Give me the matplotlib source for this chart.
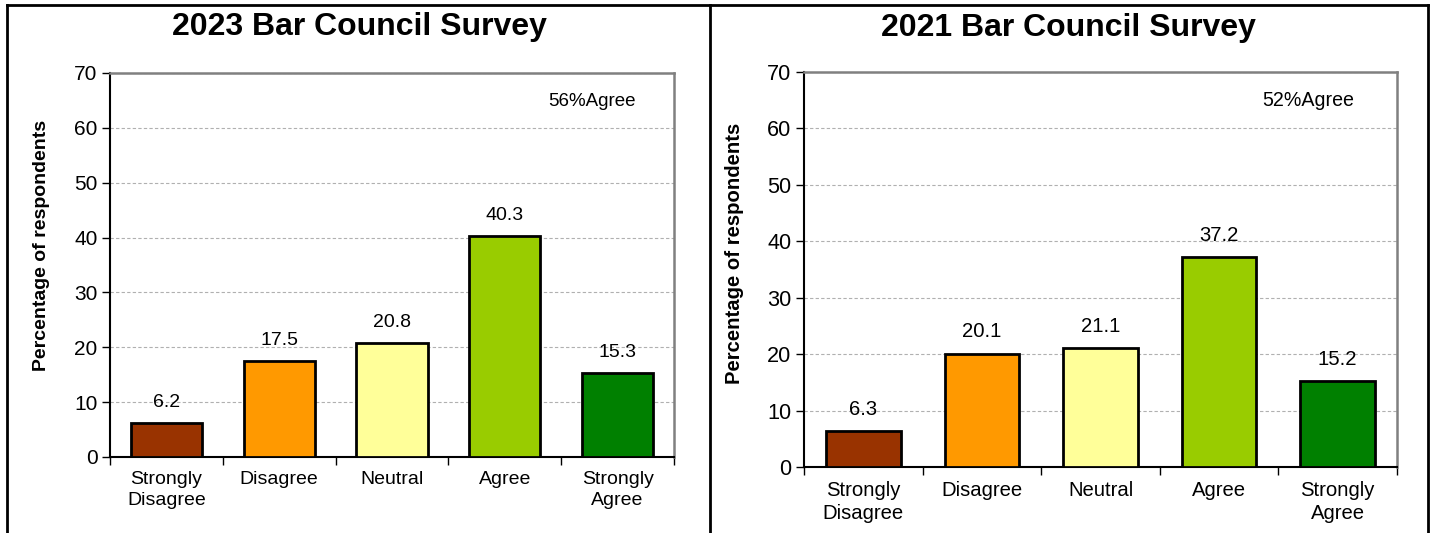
import matplotlib.pyplot as plt
import matplotlib as mpl
from matplotlib.lines import Line2D
import numpy as np

mpl.rcParams.update({
    'font.family': 'Liberation Sans',
    'xtick.direction': 'out',
    'ytick.direction': 'out',
})

categories = ['Strongly\nDisagree', 'Disagree', 'Neutral', 'Agree', 'Strongly\nAgree']
values_2023 = [6.2, 17.5, 20.8, 40.3, 15.3]
values_2021 = [6.3, 20.1, 21.1, 37.2, 15.2]
titles = ['2023 Bar Council Survey', '2021 Bar Council Survey']
agree_notes = ['56%Agree', '52%Agree']
colors = ['#993300', '#FF9900', '#FFFF99', '#99CC00', '#008000']

W, H = 1434, 533
fig = plt.figure(figsize=(W / 100, H / 100), dpi=100)

# panel placement in pixels: (left, right, top, bottom) of the plot area
panels = [
    dict(ax=(110, 674, 73, 457), title_xy=(359, 27), ylab_xy=(42, 245), note_xy=(592, 101), fs=14),
    dict(ax=(804, 1397, 72, 467), title_xy=(1068, 28), ylab_xy=(735, 253), note_xy=(1308, 101), fs=14.6),
]

for p, vals, title, note in zip(panels, [values_2023, values_2021], titles, agree_notes):
    l, r, t, b = p['ax']
    ax = fig.add_axes([l / W, 1 - b / H, (r - l) / W, (b - t) / H])
    x = np.arange(len(categories))
    bars = ax.bar(x, vals, width=0.63, color=colors, edgecolor='black', linewidth=2, zorder=3)
    for bar, v in zip(bars, vals):
        ax.text(bar.get_x() + bar.get_width() / 2, v + 2.2, f'{v:.1f}',
                ha='center', va='bottom', fontsize=p['fs'])
    ax.set_xlim(-0.5, len(categories) - 0.5)
    ax.set_ylim(0, 70)
    ax.set_yticks(range(0, 71, 10))
    ax.set_xticks(np.arange(-0.5, len(categories), 1.0))
    ax.set_xticklabels([])
    ax.set_xticks(x, minor=True)
    ax.set_xticklabels(categories, minor=True, fontsize=p['fs'], linespacing=1.3)
    ax.tick_params(axis='x', which='minor', length=0, pad=10)
    ax.tick_params(axis='x', which='major', length=6, width=1)
    ax.tick_params(axis='y', length=6, width=1, labelsize=p['fs'] + 1, pad=3)
    ax.yaxis.grid(True, linestyle=(0, (3, 2)), color='#b0b0b0', linewidth=0.8, zorder=0)
    for s in ['left', 'bottom']:
        ax.spines[s].set_color('black')
        ax.spines[s].set_linewidth(1.5)
    for s in ['top', 'right']:
        ax.spines[s].set_color('#808080')
        ax.spines[s].set_linewidth(1.8)
    fig.text(p['note_xy'][0] / W, 1 - p['note_xy'][1] / H, note,
             ha='center', va='center', fontsize=p['fs'] - 0.5)
    fig.text(p['title_xy'][0] / W, 1 - p['title_xy'][1] / H, title,
             ha='center', va='center', fontsize=23, fontweight='bold')
    fig.text(p['ylab_xy'][0] / W, 1 - p['ylab_xy'][1] / H, 'Percentage of respondents',
             ha='center', va='center', rotation=90, fontsize=p['fs'], fontweight='bold')

# panel borders
for xs, ys in [([7, 7], [533, 5]), ([7, 1428], [5, 5]), ([710, 710], [5, 533]), ([1428, 1428], [5, 533])]:
    fig.add_artist(Line2D([v / W for v in xs], [1 - v / H for v in ys], color='black', linewidth=2))

fig.savefig('out.png', dpi=100)
